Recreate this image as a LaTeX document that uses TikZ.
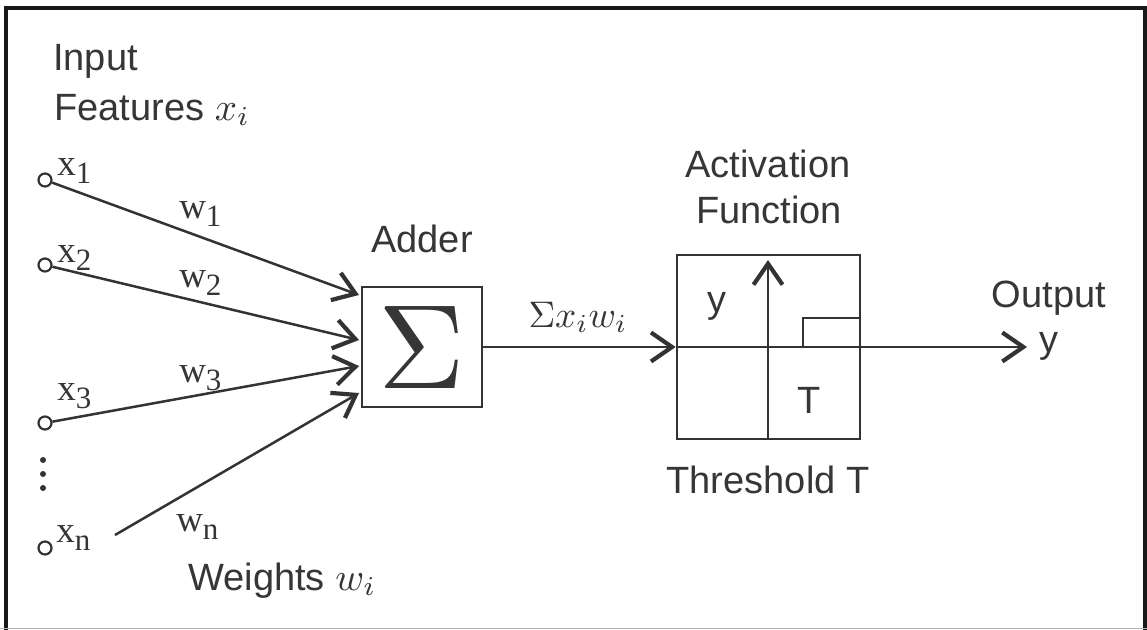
\documentclass[tikz,border=0pt]{standalone}
\usepackage{graphicx}
\usepackage{fontspec}
\setmainfont{Liberation Sans}
\newfontfamily\labelserif{Liberation Serif}
\usetikzlibrary{arrows.meta}
\definecolor{ink}{HTML}{333333}
\definecolor{txt}{HTML}{363636}
% serif input/weight label with a lowered index
\newcommand\sublab[2]{{\labelserif\fontsize{37}{37}\selectfont #1\raisebox{-8pt}{\fontsize{31}{31}\selectfont #2}}}
% math set at 10pt and enlarged
\newcommand\bigmath[2]{{\fontsize{10}{12}\selectfont\scalebox{#1}{$#2$}}}
\tikzset{
  every node/.style={inner sep=0pt, text=txt, font=\fontsize{38}{46}\selectfont},
  arr/.style={-{Straight Barb[length=21pt,width=29pt,line width=4.2pt]}},
  port/.style={circle, draw, line width=2.2pt, minimum size=13pt},
  dotmark/.style={circle, fill=ink, minimum size=6pt},
  unit/.style={draw, line width=2.6pt},
  lab/.style={anchor=base west},
}
\begin{document}
\begin{tikzpicture}[x=1pt, y=-1pt, color=ink, line width=2.5pt]
\useasboundingbox (0,0) rectangle (1147,629);
\fill[white] (0,0) rectangle (1147,629);
% frame
\draw[black!90, line width=4pt] (6,640) -- (6,8) -- (1145,8) -- (1145,640);
\draw[black!30, line width=1.5pt] (0,628.5) -- (1147,628.5);

% inputs
\node[port] (c1) at (45,180) {};
\node[port] (c2) at (45,265) {};
\node[port] (c3) at (45,423) {};
\node[port] (cn) at (45,548) {};
\node[dotmark] (d1) at (43,460) {};
\node[dotmark] (d2) at (43,474) {};
\node[dotmark] (d3) at (43,488) {};

\node[lab] (l1) at (56,175) {\sublab{x}{1}};
\node[lab] (l2) at (56,262) {\sublab{x}{2}};
\node[lab] (l3) at (56,400) {\sublab{x}{3}};
\node[lab] (ln) at (55,542) {\sublab{x}{n}};

\node[lab] (k1) at (178,218) {\sublab{w}{1}};
\node[lab] (k2) at (178,287) {\sublab{w}{2}};
\node[lab] (k3) at (178,382) {\sublab{w}{3}};
\node[lab] (kn) at (175,531) {\sublab{w}{n}};

\node[lab] (tin) at (52,70) {Input};
\node[lab] (tfe) at (53,120) {Features \bigmath{3.9}{x_i}};
\node[lab] (twe) at (187,590) {Weights \bigmath{3.9}{w_i}};

% adder
\node[unit, minimum width=120pt, minimum height=120pt] (adder) at (422,347) {\bigmath{12}{\Sigma}};
\node[anchor=base] (tad) at (422,252) {Adder};

\coordinate (a1) at (359,295);
\coordinate (a2) at (359,340);
\coordinate (a3) at (359,366);
\coordinate (an) at (359,393);
\coordinate (sn) at (115,535);
\draw[arr] (c1) -- (a1);
\draw[arr] (c2) -- (a2);
\draw[arr] (c3) -- (a3);
\draw[arr] (sn) -- (an);

% activation
\node[unit, minimum width=183pt, minimum height=184pt] (act) at (768.5,347) {};
\node[anchor=base] (tac) at (768,177) {Activation};
\node[anchor=base] (tfu) at (769,223) {Function};
\node[anchor=base] (tth) at (768,493) {Threshold T};
\node[anchor=base] (ty) at (717,312) {y};
\node[anchor=base] (tT) at (809,413) {T};

\draw[arr] (adder.east) -- (act.west);
\node[anchor=base] (tsum) at (578,327) {\bigmath{3.7}{\Sigma x_i w_i}};

\coordinate (vtop) at (768,260);
\draw[arr] (act.south -| vtop) -- (vtop);
\draw (act.west) -- (act.east);
\draw (803,347) -- (803,318) -- (act.east |- 0,318);

% output
\coordinate (otip) at (1027,347);
\draw[arr] (act.east) -- (otip);
\node[anchor=base west] (toy) at (1038,352) {y};
\node[anchor=base] (tout) at (1049,307) {Output};
\end{tikzpicture}
\end{document}
